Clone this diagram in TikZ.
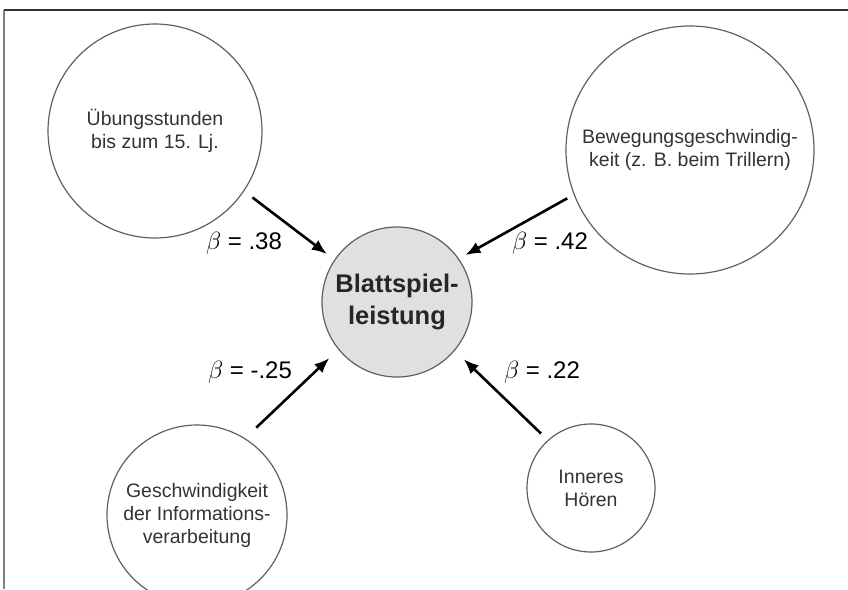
\documentclass[tikz,border=0pt]{standalone}
\usepackage{fontspec}
\setmainfont{Liberation Sans}
\usepackage{amsmath}
\usetikzlibrary{arrows.meta}
\definecolor{rim}{HTML}{606060}

\begin{document}
\begin{tikzpicture}[x=1pt, y=-1pt]
\tikzset{factor/.style={circle, draw=rim, line width=1.2pt, inner sep=0pt, outer sep=0pt, align=center, text=black!80, font=\fontsize{19.5}{23}\selectfont}}
\tikzset{effect/.style={-{Latex[length=15pt, width=12pt]}, line width=2.6pt, shorten >=10pt, shorten <=11pt}}
\tikzstyle{beta} = [inner sep=0pt, font=\fontsize{24}{28}\selectfont]

\useasboundingbox (0,0) rectangle (848,589);

\draw[line width=1.5pt, black!50] (4,589) -- (4,10);
\draw[line width=1.5pt, black!80] (4,10) -- (848,10);

\node[factor, minimum size=214pt] (uebung) at (155,131) {Übungsstunden\\bis zum 15. Lj.};
\node[factor, minimum size=248pt] (beweg) at (690,150) {Bewegungsgeschwindig-\\keit (z. B. beim Trillern)};
\node[factor, minimum size=150pt, fill=black!12, text=black!85, font=\bfseries\fontsize{25.5}{32}\selectfont] (blatt) at (397,302) {Blattspiel-\\leistung};
\node[factor, minimum size=180pt] (geschw) at (197,515) {Geschwindigkeit\\der Informations-\\verarbeitung};
\node[factor, minimum size=128pt] (hoeren) at (591,488) {Inneres\\Hören};

\draw[effect] (uebung.-34) -- (blatt.146);
\draw[effect, shorten <=8pt, shorten >=8pt] (beweg.-159) -- (blatt.35);
\draw[effect, shorten <=16pt, shorten >=13pt] (geschw.58) -- (blatt.219);
\draw[effect, shorten <=10pt, shorten >=13pt] (hoeren.132) -- (blatt.-40);

\node[beta] (b38) at (244,243) {$\beta$ = .38};
\node[beta] (b42) at (550,243) {$\beta$ = .42};
\node[beta] (b25) at (250,372) {$\beta$ = -.25};
\node[beta] (b22) at (542,372) {$\beta$ = .22};

\end{tikzpicture}
\end{document}
